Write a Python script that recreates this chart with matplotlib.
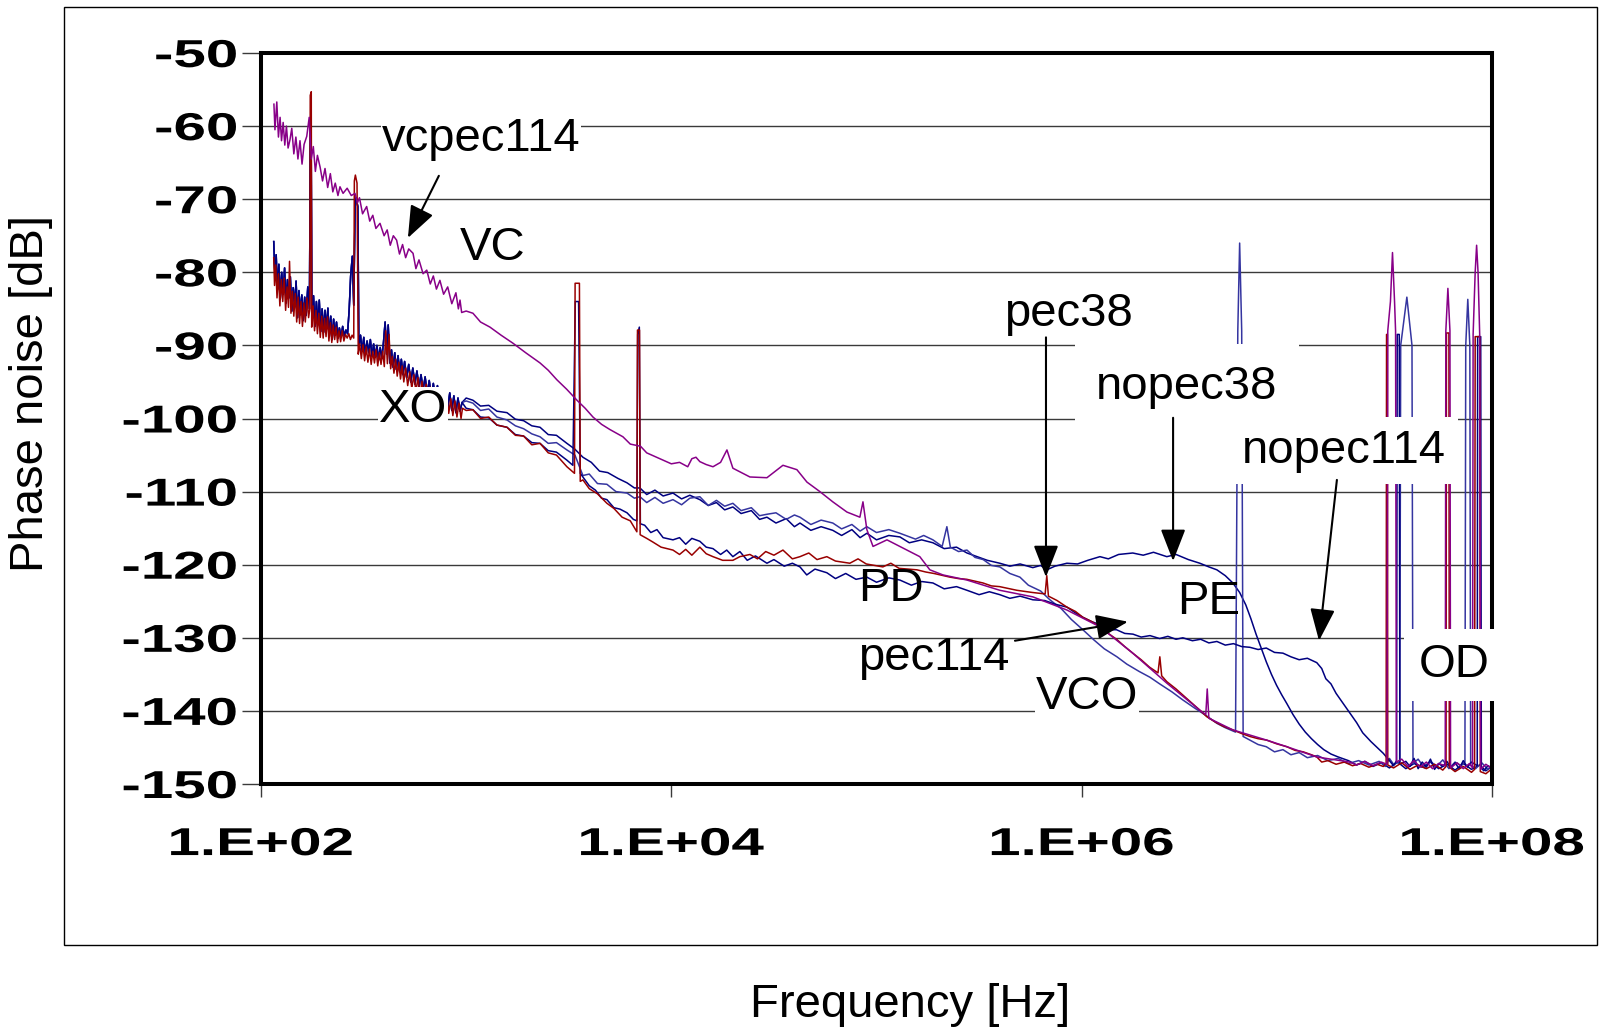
import numpy as np
import matplotlib
matplotlib.use("Agg")
import matplotlib.pyplot as plt
from matplotlib.patches import Rectangle
from matplotlib.patheffects import AbstractPathEffect
from matplotlib.transforms import Affine2D

plt.rcParams['font.family'] = ['Liberation Sans', 'DejaVu Sans']

# values: (log10 of frequency in Hz, phase noise in dB)
# noisy XO part shared by the blue curves
xo_blue = [(2.062,-75.8),(2.068,-80.5),(2.074,-77.6),(2.080,-82.4),(2.087,-78.9),(2.094,-83.6),(2.101,-80.0),
           (2.108,-83.0),(2.115,-79.4),(2.122,-84.2),(2.129,-81.0),(2.136,-83.5),(2.143,-80.6),(2.150,-85.3),
           (2.157,-82.1),(2.164,-84.6),(2.171,-81.2),(2.178,-86.2),(2.185,-82.5),(2.192,-85.8),(2.199,-83.1),
           (2.206,-86.6),(2.213,-83.4),(2.220,-85.9),(2.228,-82.0),(2.236,-85.0),(2.241,-60.0),(2.244,-58.5),
           (2.248,-86.4),(2.256,-83.2),(2.263,-87.4),(2.270,-84.0),(2.277,-87.0),(2.284,-83.8),(2.291,-88.1),
           (2.298,-85.0),(2.305,-88.2),(2.312,-85.2),(2.319,-87.8),(2.326,-84.9),(2.333,-88.8),(2.340,-86.0),
           (2.347,-89.2),(2.354,-86.4),(2.361,-88.6),(2.368,-86.8),(2.375,-89.0),(2.382,-87.6),(2.390,-88.9),
           (2.398,-87.4),(2.406,-88.7),(2.414,-87.9),(2.422,-88.4),(2.430,-85.0),(2.437,-80.5),(2.445,-77.8),
           (2.452,-84.5),(2.459,-70.5),(2.463,-69.8),(2.472,-71.0),(2.477,-90.2),(2.485,-88.6),(2.493,-90.8),
           (2.501,-88.9),(2.509,-91.3),(2.517,-89.4),(2.525,-91.0),(2.533,-89.2),(2.541,-91.5),(2.549,-89.8),
           (2.557,-91.6),(2.565,-90.0),(2.573,-92.0),(2.581,-90.3),(2.589,-91.8),(2.597,-89.6),(2.605,-86.8),
           (2.612,-91.2),(2.620,-87.2),(2.628,-92.4),(2.636,-90.6),(2.644,-93.0),(2.652,-91.0),(2.660,-93.3),
           (2.668,-91.4),(2.676,-93.6),(2.684,-91.9),(2.692,-94.0),(2.700,-92.2),(2.710,-94.4),(2.720,-92.6),
           (2.730,-95.0),(2.740,-93.1),(2.750,-95.3),(2.760,-93.5),(2.770,-95.8),(2.780,-94.0),(2.790,-96.1),
           (2.800,-94.3),(2.810,-96.6),(2.820,-94.8),(2.830,-97.0),(2.840,-95.2),(2.850,-97.4),(2.860,-95.5),
           (2.870,-97.7),(2.880,-95.9),(2.890,-98.3),(2.900,-96.2),(2.910,-98.6),(2.920,-96.5),(2.930,-98.9),
           (2.940,-96.9),(2.950,-99.2),(2.960,-97.2),(2.970,-99.0),(2.980,-97.8)]

xo_red = [(2.062,-78.0),(2.066,-81.8),(2.072,-79.0),(2.078,-83.5),(2.085,-80.2),(2.092,-84.6),(2.099,-81.0),
          (2.106,-84.0),(2.113,-80.8),(2.120,-85.2),(2.127,-82.0),(2.134,-84.8),(2.139,-78.5),(2.146,-85.6),
          (2.153,-82.6),(2.160,-86.0),(2.167,-82.9),(2.174,-86.8),(2.181,-83.4),(2.188,-87.0),(2.195,-84.0),
          (2.202,-87.4),(2.209,-84.2),(2.216,-86.8),(2.224,-83.5),(2.232,-86.2),(2.238,-85.0),(2.240,-55.8),
          (2.245,-55.3),(2.247,-87.5),(2.254,-84.6),(2.261,-88.0),(2.268,-85.2),(2.275,-88.4),(2.282,-85.6),
          (2.289,-88.9),(2.296,-86.0),(2.303,-89.0),(2.310,-86.3),(2.317,-88.8),(2.324,-86.1),(2.331,-89.4),
          (2.338,-86.9),(2.345,-89.6),(2.352,-87.2),(2.359,-89.2),(2.366,-87.5),(2.373,-89.6),(2.380,-88.0),
          (2.388,-89.5),(2.396,-88.0),(2.404,-89.4),(2.412,-88.5),(2.420,-89.0),(2.428,-88.4),(2.436,-89.2),
          (2.444,-88.6),(2.452,-89.0),(2.455,-67.5),(2.460,-66.7),(2.468,-67.8),(2.474,-91.2),(2.481,-89.8),
          (2.489,-91.8),(2.497,-89.9),(2.505,-92.1),(2.513,-90.2),(2.521,-92.3),(2.529,-90.5),(2.537,-92.6),
          (2.545,-90.8),(2.553,-92.4),(2.561,-90.6),(2.569,-92.8),(2.577,-91.0),(2.585,-92.6),(2.593,-90.8),
          (2.601,-92.9),(2.608,-88.0),(2.616,-92.5),(2.624,-88.5),(2.632,-93.2),(2.640,-91.5),(2.648,-93.8),
          (2.656,-91.9),(2.664,-94.2),(2.672,-92.3),(2.680,-94.6),(2.688,-92.8),(2.696,-95.0),(2.705,-93.1),
          (2.715,-95.5),(2.725,-93.6),(2.735,-95.9),(2.745,-94.0),(2.755,-96.3),(2.765,-94.4),(2.775,-96.8),
          (2.785,-94.9),(2.795,-97.2),(2.805,-95.3),(2.815,-97.6),(2.825,-95.7),(2.835,-97.9),(2.845,-96.0),
          (2.855,-98.2),(2.865,-96.3),(2.875,-98.6),(2.885,-96.7),(2.895,-99.0),(2.905,-97.0),(2.915,-99.3),
          (2.925,-97.3),(2.935,-99.6),(2.945,-97.6),(2.955,-99.8),(2.965,-97.9),(2.975,-100.0),(2.982,-98.6)]

nopec38_tail = [(3.000,-97.2),(3.033,-97.5),(3.070,-98.3),(3.110,-98.2),(3.150,-99.0),(3.199,-99.2),(3.240,-100.1),
                (3.280,-100.3),(3.320,-101.0),(3.360,-101.2),(3.400,-102.2),(3.440,-102.3),(3.491,-103.4),
                (3.530,-104.2),(3.569,-105.3),(3.610,-106.0),(3.650,-107.2),(3.690,-107.4),(3.740,-108.2),
                (3.784,-108.8),(3.820,-109.5),(3.847,-109.5),(3.880,-110.4),(3.920,-109.8),(3.960,-110.6),
                (4.008,-110.2),(4.050,-111.0),(4.090,-110.5),(4.139,-111.1),(4.180,-111.9),(4.220,-111.5),
                (4.260,-112.5),(4.300,-112.1),(4.340,-113.0),(4.390,-112.6),(4.430,-113.8),(4.466,-113.5),
                (4.510,-114.3),(4.560,-113.7),(4.600,-114.8),(4.627,-114.3),(4.680,-115.3),(4.730,-114.8),
                (4.787,-115.3),(4.830,-116.0),(4.880,-115.2),(4.920,-116.3),(4.953,-115.7),(5.000,-116.6),
                (5.060,-116.0),(5.114,-116.2),(5.160,-117.0),(5.220,-116.6),(5.275,-117.0),(5.330,-117.8),
                (5.390,-117.6),(5.441,-118.4),(5.490,-118.9),(5.540,-119.4),(5.601,-119.8),(5.650,-120.2),
                (5.700,-119.9),(5.762,-120.4),(5.800,-120.1),(5.830,-120.7),(5.870,-120.2),(5.928,-119.8),
                (5.980,-119.9),(6.030,-119.4),(6.089,-118.9),(6.130,-119.2),(6.180,-118.6),(6.249,-118.4),
                (6.300,-118.7),(6.350,-118.3),(6.415,-118.9),(6.460,-118.6),(6.520,-119.3),(6.576,-119.8),
                (6.620,-120.3),(6.659,-120.7),(6.700,-121.5),(6.737,-122.5),(6.770,-123.8),(6.800,-125.5),
                (6.825,-127.4),(6.850,-129.5),(6.875,-131.4),(6.900,-133.3),(6.925,-135.0),(6.950,-136.5),
                (6.975,-137.8),(7.000,-139.0),(7.030,-140.5),(7.060,-141.8),(7.090,-142.9),(7.120,-143.8),
                (7.150,-144.6),(7.180,-145.3),(7.215,-145.9),(7.250,-146.3),(7.300,-146.8),(7.340,-147.4),
                (7.380,-146.9),(7.420,-147.6),(7.460,-147.1),(7.500,-147.8),(7.540,-147.0),(7.580,-147.9),
                (7.620,-147.2),(7.660,-147.7),(7.700,-147.0),(7.740,-147.9),(7.780,-147.3),(7.820,-148.1),
                (7.860,-147.2),(7.900,-148.0),(7.940,-147.4),(7.970,-148.2),(8.000,-147.6)]

pec38_tail = [(3.000,-97.6),(3.033,-97.9),(3.070,-98.9),(3.110,-98.7),(3.150,-99.8),(3.199,-100.2),(3.240,-101.0),
              (3.280,-101.4),(3.320,-102.1),(3.360,-102.5),(3.400,-103.4),(3.440,-103.3),(3.491,-104.3),
              (3.530,-105.0),(3.569,-107.8),(3.600,-107.6),(3.640,-108.9),(3.686,-109.0),(3.730,-110.0),
              (3.784,-110.2),(3.820,-110.9),(3.847,-110.7),(3.880,-111.5),(3.920,-110.8),(3.960,-111.6),
              (4.008,-111.1),(4.050,-111.8),(4.090,-110.9),(4.139,-110.7),(4.180,-111.9),(4.220,-111.2),
              (4.260,-112.0),(4.300,-111.6),(4.340,-112.6),(4.390,-112.2),(4.430,-113.3),(4.466,-113.1),
              (4.510,-112.9),(4.560,-113.8),(4.600,-113.2),(4.627,-113.5),(4.680,-114.5),(4.730,-113.9),
              (4.787,-114.3),(4.830,-115.1),(4.880,-114.5),(4.920,-115.4),(4.953,-114.8),(5.000,-115.6),
              (5.060,-115.2),(5.114,-115.7),(5.190,-116.5),(5.230,-116.0),(5.275,-116.6),(5.320,-117.5),
              (5.343,-114.8),(5.360,-117.6),(5.400,-118.2),(5.441,-118.0),(5.480,-119.0),(5.520,-119.3),
              (5.560,-120.1),(5.601,-120.3),(5.650,-121.2),(5.699,-121.7),(5.740,-122.8),(5.800,-123.6),
              (5.845,-124.8),(5.900,-126.0),(5.950,-127.5),(6.006,-128.9),(6.060,-130.3),(6.110,-131.5),
              (6.172,-132.6),(6.220,-133.6),(6.280,-134.6),(6.333,-135.4),(6.380,-136.3),(6.440,-137.4),
              (6.493,-138.5),(6.550,-139.6),(6.610,-140.7),(6.659,-141.7),(6.700,-142.3),(6.750,-142.9),
              (6.761,-88.0),(6.770,-76.0),(6.780,-88.0),(6.787,-143.5),(6.820,-144.0),(6.860,-144.6),
              (6.900,-144.9),(6.940,-145.6),(6.981,-145.3),(7.020,-146.0),(7.060,-145.7),(7.100,-146.4),
              (7.150,-146.1),(7.200,-146.8),(7.250,-146.5),(7.300,-147.2),(7.350,-146.8),(7.400,-147.4),
              (7.450,-146.9),(7.480,-147.6),(7.500,-146.5),(7.520,-147.3),(7.550,-147.0),(7.555,-90.0),
              (7.585,-83.4),(7.610,-90.0),(7.615,-147.2),(7.640,-146.6),(7.670,-147.8),(7.700,-146.9),
              (7.730,-147.6),(7.760,-146.7),(7.790,-147.9),(7.820,-147.0),(7.850,-147.5),(7.868,-147.0),
              (7.872,-90.0),(7.882,-83.7),(7.892,-90.0),(7.896,-147.4),(7.920,-147.9),(7.950,-147.1),
              (7.980,-148.0),(8.000,-147.4)]

nopec114_tail = [(3.000,-98.6),(3.033,-98.8),(3.070,-99.8),(3.110,-99.9),(3.150,-100.9),(3.199,-101.2),
                 (3.240,-102.2),(3.280,-102.4),(3.320,-103.3),(3.360,-103.4),(3.400,-104.4),(3.440,-104.6),
                 (3.491,-105.7),(3.520,-106.4),(3.532,-84.0),(3.548,-84.0),(3.556,-107.5),(3.569,-108.0),
                 (3.600,-109.2),(3.630,-109.8),(3.660,-110.9),(3.686,-111.1),(3.720,-112.2),(3.750,-112.4),
                 (3.784,-112.9),(3.815,-113.8),(3.832,-114.0),(3.836,-88.5),(3.844,-87.5),(3.849,-114.4),
                 (3.870,-114.6),(3.900,-115.6),(3.930,-115.2),(3.960,-116.3),(4.008,-116.6),(4.040,-116.3),
                 (4.070,-117.2),(4.100,-116.4),(4.139,-116.8),(4.170,-117.6),(4.203,-117.8),(4.240,-118.6),
                 (4.270,-118.0),(4.300,-118.9),(4.334,-118.2),(4.370,-119.4),(4.410,-118.8),(4.466,-119.8),
                 (4.500,-119.3),(4.550,-120.2),(4.590,-119.8),(4.627,-120.3),(4.660,-121.4),(4.700,-120.6),
                 (4.758,-121.1),(4.800,-121.9),(4.850,-121.2),(4.900,-122.0),(4.953,-121.7),(5.000,-122.4),
                 (5.060,-121.8),(5.114,-122.1),(5.170,-122.8),(5.220,-122.3),(5.275,-122.5),(5.330,-123.3),
                 (5.390,-123.0),(5.441,-123.5),(5.500,-124.1),(5.550,-123.7),(5.601,-124.1),(5.650,-124.6),
                 (5.700,-124.3),(5.762,-124.8),(5.820,-124.9),(5.870,-125.4),(5.928,-125.8),(5.970,-126.6),
                 (6.006,-127.2),(6.050,-127.8),(6.090,-128.2),(6.130,-128.9),(6.170,-128.9),(6.210,-129.4),
                 (6.250,-129.5),(6.290,-129.9),(6.333,-129.7),(6.380,-130.1),(6.420,-129.8),(6.460,-130.2),
                 (6.493,-130.0),(6.540,-130.4),(6.580,-130.2),(6.620,-130.7),(6.659,-130.5),(6.700,-131.0),
                 (6.740,-130.8),(6.780,-131.2),(6.820,-131.3),(6.860,-131.6),(6.900,-131.4),(6.940,-132.0),
                 (6.981,-132.1),(7.020,-132.6),(7.060,-133.0),(7.100,-132.8),(7.146,-133.4),(7.170,-134.2),
                 (7.190,-135.6),(7.215,-136.3),(7.240,-137.6),(7.270,-138.8),(7.307,-140.3),(7.340,-141.6),
                 (7.370,-143.0),(7.410,-144.2),(7.440,-145.0),(7.470,-145.8),(7.485,-146.3),(7.500,-146.8),
                 (7.520,-147.5),(7.535,-146.8),(7.538,-88.5),(7.548,-88.5),(7.551,-147.3),(7.580,-146.9),
                 (7.600,-147.6),(7.620,-146.5),(7.640,-147.9),(7.660,-147.0),(7.680,-147.7),(7.700,-146.6),
                 (7.720,-148.0),(7.740,-147.2),(7.760,-147.6),(7.780,-146.9),(7.800,-147.8),(7.820,-147.1),
                 (7.840,-147.9),(7.860,-146.8),(7.880,-147.7),(7.900,-147.0),(7.928,-147.5),(7.930,-88.8),
                 (7.945,-88.8),(7.948,-147.8),(7.960,-148.2),(7.980,-147.5),(8.000,-147.8)]

pec114_tail = [(3.000,-98.9),(3.033,-98.8),(3.070,-100.0),(3.110,-99.8),(3.150,-100.9),(3.199,-101.2),
               (3.240,-102.3),(3.280,-102.4),(3.320,-103.6),(3.360,-103.4),(3.400,-104.7),(3.440,-105.0),
               (3.491,-106.6),(3.528,-107.5),(3.531,-81.5),(3.552,-81.5),(3.556,-108.6),(3.569,-108.4),
               (3.600,-109.6),(3.640,-110.3),(3.686,-111.6),(3.720,-112.3),(3.760,-113.5),(3.800,-114.0),
               (3.832,-115.5),(3.835,-87.9),(3.845,-87.9),(3.848,-115.9),(3.880,-116.4),(3.910,-116.9),
               (3.950,-117.6),(4.008,-118.0),(4.040,-118.6),(4.070,-117.9),(4.100,-118.7),(4.139,-117.6),
               (4.170,-118.5),(4.203,-118.9),(4.250,-119.4),(4.300,-119.4),(4.334,-118.9),(4.383,-118.6),
               (4.420,-119.2),(4.460,-118.2),(4.500,-118.7),(4.544,-118.0),(4.590,-119.2),(4.627,-118.9),
               (4.670,-118.4),(4.710,-119.3),(4.758,-118.9),(4.800,-119.5),(4.870,-119.8),(4.910,-119.2),
               (4.950,-119.9),(5.031,-120.3),(5.070,-119.8),(5.110,-120.5),(5.197,-120.7),(5.240,-121.0),
               (5.280,-121.2),(5.358,-121.7),(5.400,-121.9),(5.440,-122.0),(5.519,-122.5),(5.560,-122.9),
               (5.600,-123.0),(5.684,-123.5),(5.760,-123.8),(5.822,-124.0),(5.830,-121.5),(5.838,-124.3),
               (5.880,-124.9),(5.928,-125.8),(5.970,-126.4),(6.006,-127.2),(6.050,-127.8),(6.089,-128.5),
               (6.130,-129.4),(6.170,-130.2),(6.210,-131.2),(6.249,-132.1),(6.290,-133.0),(6.330,-134.0),
               (6.372,-134.8),(6.381,-132.6),(6.390,-135.2),(6.415,-136.0),(6.460,-137.0),(6.500,-138.0),
               (6.540,-139.0),(6.576,-139.9),(6.610,-140.8),(6.650,-141.5),(6.690,-142.1),(6.737,-142.6),
               (6.780,-143.1),(6.820,-143.5),(6.860,-143.8),(6.902,-144.0),(6.950,-144.5),(7.000,-144.9),
               (7.040,-145.4),(7.080,-145.6),(7.120,-146.0),(7.146,-146.3),(7.170,-147.0),(7.200,-146.8),
               (7.240,-147.3),(7.280,-147.0),(7.320,-147.5),(7.360,-147.2),(7.400,-147.7),(7.440,-147.3),
               (7.470,-147.6),(7.484,-147.2),(7.486,-88.5),(7.490,-88.5),(7.492,-147.4),(7.520,-147.8),
               (7.560,-147.1),(7.600,-148.0),(7.640,-147.4),(7.680,-147.9),(7.720,-147.3),(7.760,-148.1),
               (7.776,-147.6),(7.778,-88.3),(7.790,-88.3),(7.792,-147.7),(7.820,-148.3),(7.860,-147.6),
               (7.900,-148.4),(7.915,-148.0),(7.918,-88.8),(7.940,-88.8),(7.943,-148.3),(7.970,-148.6),
               (8.000,-147.9)]

vcpec114 = [(2.063,-57.0),(2.068,-60.5),(2.077,-56.7),(2.085,-61.5),(2.093,-58.8),(2.100,-62.0),(2.108,-59.5),
            (2.116,-62.6),(2.124,-60.0),(2.132,-63.0),(2.141,-61.9),(2.150,-60.3),(2.160,-63.8),(2.170,-61.5),
            (2.180,-64.5),(2.190,-62.0),(2.200,-65.2),(2.210,-62.5),(2.223,-61.4),(2.235,-58.8),(2.245,-64.5),
            (2.255,-62.8),(2.265,-66.2),(2.275,-64.0),(2.288,-65.6),(2.300,-67.5),(2.312,-65.8),(2.325,-68.4),
            (2.338,-66.5),(2.350,-69.0),(2.362,-67.8),(2.375,-69.5),(2.385,-68.3),(2.400,-69.2),(2.420,-68.5),
            (2.440,-69.5),(2.458,-69.2),(2.470,-70.5),(2.480,-69.8),(2.495,-72.0),(2.515,-71.0),(2.530,-73.0),
            (2.545,-72.2),(2.560,-74.0),(2.580,-73.3),(2.600,-75.0),(2.615,-74.2),(2.630,-76.3),(2.645,-75.0),
            (2.661,-75.6),(2.675,-77.5),(2.690,-76.2),(2.705,-78.0),(2.720,-76.8),(2.741,-77.4),(2.755,-79.5),
            (2.770,-78.3),(2.790,-80.2),(2.808,-79.7),(2.825,-81.6),(2.840,-80.5),(2.855,-82.3),(2.872,-81.1),
            (2.890,-83.0),(2.910,-82.0),(2.930,-84.3),(2.950,-82.8),(2.962,-85.0),(2.970,-83.8),(2.978,-85.5),
            (3.000,-85.3),(3.033,-85.6),(3.070,-86.8),(3.116,-87.5),(3.170,-88.6),(3.228,-89.7),(3.290,-91.0),
            (3.360,-92.4),(3.400,-93.4),(3.442,-94.7),(3.490,-96.0),(3.540,-97.5),(3.580,-98.6),(3.618,-99.8),
            (3.660,-100.8),(3.700,-101.5),(3.764,-102.5),(3.800,-103.5),(3.850,-103.8),(3.880,-104.7),
            (3.920,-105.2),(3.960,-105.7),(4.000,-106.2),(4.040,-106.0),(4.080,-106.6),(4.100,-105.5),
            (4.120,-105.3),(4.139,-105.9),(4.170,-106.3),(4.203,-106.6),(4.240,-106.0),(4.271,-104.3),
            (4.300,-106.8),(4.383,-108.0),(4.466,-108.1),(4.544,-106.4),(4.612,-107.0),(4.661,-108.7),
            (4.724,-110.0),(4.787,-111.4),(4.856,-112.8),(4.919,-113.5),(4.934,-111.4),(4.953,-115.2),
            (4.983,-117.5),(5.051,-116.6),(5.148,-118.0),(5.211,-118.9),(5.260,-120.7),(5.324,-121.4),
            (5.441,-122.1),(5.601,-123.5),(5.762,-124.4),(5.928,-126.2),(6.089,-128.5),(6.249,-132.1),
            (6.415,-136.2),(6.576,-139.9),(6.605,-140.5),(6.612,-137.0),(6.620,-141.0),(6.737,-142.6),
            (6.902,-144.0),(7.000,-144.9),(7.146,-146.3),(7.307,-147.0),(7.340,-147.4),(7.380,-146.9),
            (7.420,-147.5),(7.460,-147.0),(7.488,-147.3),(7.492,-88.0),(7.505,-84.0),(7.515,-77.3),
            (7.525,-84.0),(7.530,-88.0),(7.534,-147.0),(7.560,-146.6),(7.590,-147.6),(7.620,-146.8),
            (7.650,-147.7),(7.680,-147.0),(7.710,-147.9),(7.740,-147.2),(7.772,-147.5),(7.775,-88.0),
            (7.785,-82.2),(7.795,-88.0),(7.798,-147.8),(7.830,-147.1),(7.860,-147.9),(7.890,-147.2),
            (7.905,-147.8),(7.908,-88.5),(7.918,-80.0),(7.925,-76.3),(7.932,-80.0),(7.940,-88.5),
            (7.945,-148.0),(7.970,-147.3),(8.000,-147.9)]

y_ticks = list(range(-150, -49, 10))
y_tick_labels = ['%d' % v for v in y_ticks]
x_ticks = [1e2, 1e4, 1e6, 1e8]
x_tick_labels = ['1.E+02', '1.E+04', '1.E+06', '1.E+08']

NAVY = '#000080'
MIDBLUE = '#3535A0'
DARKRED = '#990000'
PURPLE = '#880088'


def curve(*parts):
    pts = np.array([p for part in parts for p in part])
    return 10 ** pts[:, 0], pts[:, 1]


class Wide(AbstractPathEffect):
    """draw text stretched sideways, like the wide tick font of the original"""
    def __init__(self, sx, anchor):
        super().__init__()
        self.sx = sx
        self.anchor = anchor

    def draw_path(self, renderer, gc, tpath, affine, rgbFace=None):
        ext = tpath.get_extents()
        x0 = ext.x0 + self.anchor * ext.width
        t = Affine2D().translate(-x0, 0).scale(self.sx, 1).translate(x0, 0) + affine
        renderer.draw_path(gc, tpath, t, rgbFace)


W, H = 1600, 1027
fig = plt.figure(figsize=(W / 100, H / 100), dpi=100)
fig.patches.append(Rectangle((64 / W, 1 - 945 / H), (1597 - 64) / W, (945 - 7) / H,
                             transform=fig.transFigure, fill=False, lw=1, ec='black'))
ax = fig.add_axes([261 / W, 1 - 784 / H, (1492 - 261) / W, (784 - 53) / H])

lw = 1.1
ax.plot(*curve(xo_blue, nopec38_tail), color=NAVY, lw=lw)
ax.plot(*curve(xo_blue, pec38_tail), color=MIDBLUE, lw=lw)
ax.plot(*curve(xo_blue, nopec114_tail), color=NAVY, lw=lw)
ax.plot(*curve(xo_red, pec114_tail), color=DARKRED, lw=lw)
ax.plot(*curve(vcpec114), color=PURPLE, lw=lw)

ax.set_xscale('log')
ax.set_xlim(1e2, 1e8)
ax.set_ylim(-150, -50)
ax.set_yticks(y_ticks, labels=y_tick_labels)
ax.set_xticks(x_ticks, labels=x_tick_labels)
ax.xaxis.set_minor_locator(matplotlib.ticker.NullLocator())
ax.yaxis.grid(True, color='#3a3a3a', lw=1.0)
ax.set_axisbelow(True)
for s in ax.spines.values():
    s.set_linewidth(2.9)
ax.tick_params(axis='y', length=14, width=1, color='#3a3a3a', pad=3, labelsize=28)
ax.tick_params(axis='x', length=9, width=1, color='#3a3a3a', pad=22, labelsize=28)
for lbl in ax.get_yticklabels():
    lbl.set_fontweight('bold')
    lbl.set_path_effects([Wide(1.5, 1.0)])
for lbl in ax.get_xticklabels():
    lbl.set_fontweight('bold')
    lbl.set_path_effects([Wide(1.5, 0.5)])

ax.set_ylabel('Phase noise [dB]', fontsize=34, ha='center', va='center')
ax.yaxis.set_label_coords((31 - 261) / 1231, (784 - 394) / 731)
ax.set_xlabel('Frequency [Hz]', fontsize=34, ha='center', va='center')
ax.xaxis.set_label_coords((910 - 261) / 1231, (784 - 1005) / 731)

fs = 34
white = dict(facecolor='white', edgecolor='none', boxstyle='square,pad=0.02')
labels = [
    ('vcpec114', 1.18e3, -61.8, white),
    ('VC', 1.34e3, -76.7, None),
    ('XO', 551, -98.8, white),
    ('PD', 1.18e5, -123.3, None),
    ('pec38', 8.57e5, -85.7, None),
    ('nopec38', 3.26e6, -95.7, dict(facecolor='white', edgecolor='none', boxstyle='square,pad=0.45')),
    ('nopec114', 1.90e7, -104.4, dict(facecolor='white', edgecolor='none', boxstyle='square,pad=0.25')),
    ('PE', 4.17e6, -125.1, None),
    ('pec114', 1.91e5, -132.8, None),
    ('VCO', 1.06e6, -138.1, white),
    ('OD', 6.53e7, -133.7, dict(facecolor='white', edgecolor='none', boxstyle='square,pad=0.3')),
]
for txt, x, y, box in labels:
    ax.text(x, y, txt, fontsize=fs, ha='center', va='center', bbox=box, zorder=5, clip_on=False)

arrows = [
    ((520, -75.3), (736, -66.8)),
    ((6.70e5, -121.7), (6.70e5, -88.9)),
    ((2.79e6, -119.5), (2.79e6, -99.9)),
    ((1.435e7, -130.4), (1.754e7, -108.4)),
    ((1.68e6, -127.8), (4.73e5, -130.4)),
]
for head, tail in arrows:
    ax.annotate('', xy=head, xytext=tail, zorder=6,
                arrowprops=dict(arrowstyle='-|>,head_length=0.9,head_width=0.35', color='black',
                                lw=1.5, shrinkA=0, shrinkB=0, mutation_scale=22))

fig.savefig('out.png', dpi=100)
